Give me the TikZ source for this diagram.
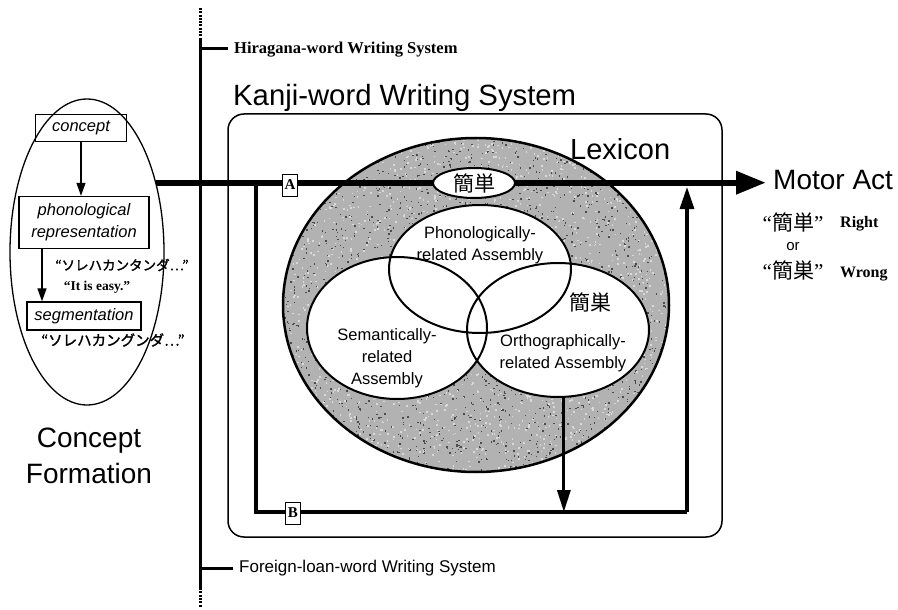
\documentclass[tikz,border=0pt]{standalone}
\usepackage{fontspec}
\setmainfont{Liberation Serif}
\setsansfont{Liberation Sans}
\newfontfamily\cjk{Noto Sans CJK JP}
\newfontfamily\cjkbold{Noto Sans CJK JP}[FakeBold=1.6]
\usetikzlibrary{shapes.geometric,arrows.meta,calc}
\newcommand\fsz[2]{\fontsize{#1}{#2}\selectfont}
\begin{document}
\begin{tikzpicture}[x=1pt,y=-1pt,
  thinbox/.style={draw,line width=1.3pt,inner sep=0pt,align=center,font=\sffamily\itshape\fsz{16.5}{22}},
  thinarrow/.style={line width=1.3pt,-{Triangle[length=13pt,width=9pt]}},
  axisline/.style={line width=3pt},
  loopline/.style={line width=3.2pt},
  mainarrow/.style={line width=6.3pt,-{Triangle[length=30pt,width=22pt]}},
  tagbox/.style={draw,fill=white,line width=0.9pt,inner sep=0pt,minimum width=15,minimum height=22,font=\bfseries\fsz{15}{15}},
  venn/.style={ellipse,fill=white,inner sep=0pt},
  vennline/.style={line width=2pt},
  vlabel/.style={font=\sffamily\fsz{16.5}{22},align=center,inner sep=0pt},
]
\useasboundingbox (0,0) rectangle (898,610);
% writing-system axis
\coordinate (axtop) at (200,8);
\coordinate (ax1) at (200,40);
\coordinate (ax2) at (200,588);
\coordinate (axbot) at (200,607);
\draw[axisline] (ax1) -- (ax2);
\draw[axisline, dash pattern=on 2pt off 1.3pt] (axtop) -- (ax1);
\draw[axisline, dash pattern=on 2pt off 1.3pt] (ax2) -- (axbot);
\coordinate (hk) at (200,49);
\coordinate (fk) at (200,568);
\node[anchor=west, inner sep=6pt, font=\bfseries\fsz{16.5}{16.5}] (hira) at (228,50) {Hiragana-word Writing System};
\node[anchor=west, inner sep=6pt, font=\sffamily\fsz{17}{17}] (foreign) at (233,568) {Foreign-loan-word Writing System};
\draw[axisline] (hk) -- (hk -| hira.west);
\draw[axisline] (fk) -- (foreign.west);
% kanji system
\node[anchor=base west, inner sep=0pt, font=\sffamily\fsz{29.3}{29.3}] (kws) at (233,106) {Kanji-word Writing System};
\node[draw, rounded corners=16pt, line width=1.5pt, minimum width=494, minimum height=423, inner sep=0pt] (kbox) at (475,325.5) {};
% lexicon (stippled)
\node[ellipse, fill=black!30, minimum width=386, minimum height=334, inner sep=0pt] (lex) at (476,305) {};
\begin{scope}
  \clip (lex.center) ellipse [x radius=193pt, y radius=167pt];
  \pgfmathsetseed{7}
  \foreach \i in {1,...,2200}{
    \pgfmathsetmacro\px{476+193*(2*rnd-1)}
    \pgfmathsetmacro\py{305+167*(2*rnd-1)}
    \fill[black!70] (\px,\py) rectangle ++(1.4,1.4);
  }
  \foreach \i in {1,...,2200}{
    \pgfmathsetmacro\px{476+193*(2*rnd-1)}
    \pgfmathsetmacro\py{305+167*(2*rnd-1)}
    \fill[white!85!black] (\px,\py) rectangle ++(1.6,1.6);
  }
\end{scope}
\draw[line width=2.5pt] (lex.center) ellipse [x radius=193pt, y radius=167pt];
\node[anchor=base west, inner sep=0pt, font=\sffamily\fsz{29}{29}] (lext) at (570,160) {Lexicon};
% venn
\node[venn, minimum width=182, minimum height=128] (pho) at (480,269) {};
\node[venn, minimum width=180, minimum height=142] (sem) at (397,328) {};
\node[venn, minimum width=182, minimum height=134] (ort) at (558,330) {};
\draw[vennline] (pho.center) ellipse [x radius=91pt, y radius=64pt];
\draw[vennline] (sem.center) ellipse [x radius=90pt, y radius=71pt];
\draw[vennline] (ort.center) ellipse [x radius=91pt, y radius=67pt];
\node[vlabel] (phoT) at (480,245) {Phonologically-\\related Assembly};
\node[vlabel] (semT) at (387,358) {Semantically-\\related\\Assembly};
\node[vlabel] (ortT) at (563,353) {Orthographically-\\related Assembly};
\node[inner sep=0pt, font=\cjk\fsz{21}{21}] (kx) at (590,302) {簡巣};
% concept formation
\node[ellipse, draw, line width=1.3pt, minimum width=154, minimum height=306, inner sep=0pt] (cf) at (87,252) {};
\node[thinbox, minimum width=91, minimum height=27] (concept) at (81,128) {concept};
\node[thinbox, minimum width=130, minimum height=52] (phon) at (84,222.5) {phonological\\representation};
\node[thinbox, minimum width=114, minimum height=28] (seg) at (84,316) {segmentation};
\draw[thinarrow] (concept.south) -- (concept.south |- phon.north);
\coordinate (pa) at ($(phon.south west)!0.18!(phon.south east)$);
\draw[thinarrow] (pa) -- (pa |- seg.north);
\node[inner sep=0pt, font=\cjkbold\fsz{13.5}{13.5}] (kana1) at (122,265) {“ソレハカンタンダ…”};
\node[inner sep=0pt, font=\bfseries\fsz{13.5}{13.5}] (easy) at (97,287) {“It is easy.”};
\node[inner sep=0pt, font=\cjkbold\fsz{14.5}{14.5}] (kana2) at (113,340) {“ソレハカングンダ…”};
\node[align=center, inner sep=0pt, font=\sffamily\fsz{28}{36}] (cform) at (89,456) {Concept\\Formation};
% main route
\coordinate (mtip) at (766,183);
\draw[mainarrow] (cf.45) -- (cf.45 -| mtip);
\node[ellipse, draw, fill=white, line width=2pt, minimum width=82, minimum height=30, inner sep=0pt, font=\cjk\fsz{21}{21}] (kd) at (474,183) {簡単};
% loop route
\coordinate (lt) at (256,183);
\coordinate (lb) at (256,512);
\coordinate (rb) at (687,512);
\coordinate (rt) at (687,187);
\draw[loopline] (lt) -- (lb) -- (rb);
\draw[loopline, -{Triangle[length=22pt,width=14pt]}] (rb) -- (rt);
\draw[loopline, -{Triangle[length=22pt,width=13pt]}] (ort.-85) -- (ort.-85 |- lb);
\node[tagbox] (A) at (290,185) {A};
\node[tagbox] (B) at (293,513) {B};
% motor act
\node[anchor=base west, inner sep=0pt, font=\sffamily\fsz{28}{28}] (motor) at (773,189) {Motor Act};
\node[inner sep=0pt, font=\fsz{21}{21}] (ans1) at (793,222) {“{\cjk 簡単}”};
\node[anchor=base west, inner sep=0pt, font=\bfseries\fsz{16}{16}] (rightT) at (840,227) {Right};
\node[inner sep=0pt, font=\sffamily\fsz{15}{15}] (orT) at (793,247) {or};
\node[inner sep=0pt, font=\fsz{21}{21}] (ans2) at (793,270) {“{\cjk 簡巣}”};
\node[anchor=base west, inner sep=0pt, font=\bfseries\fsz{16}{16}] (wrongT) at (840,277) {Wrong};
\end{tikzpicture}
\end{document}
